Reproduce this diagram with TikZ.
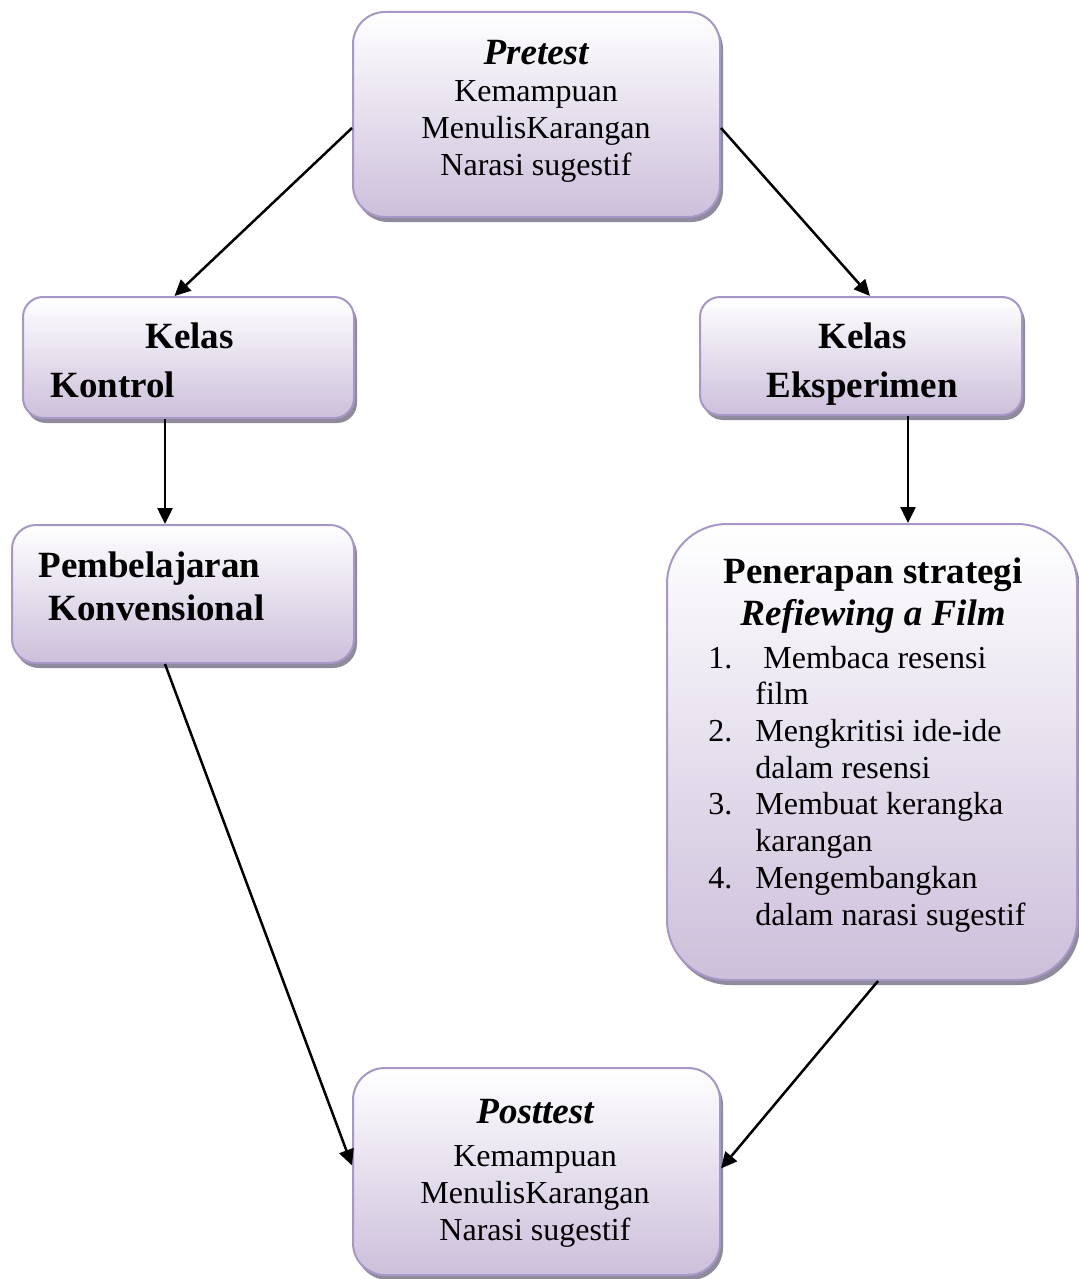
\documentclass[tikz,border=0pt]{standalone}
\usepackage{fontspec}
\setmainfont{Liberation Serif}
\usetikzlibrary{arrows.meta,shadows}
\definecolor{boxlila}{HTML}{CCBFDB}
\definecolor{boxrand}{HTML}{A797C6}
\definecolor{boxschatten}{HTML}{8F8A9C}
\begin{document}
\begin{tikzpicture}[x=0.5pt,y=-0.5pt,
        kotak/.style={rectangle,rounded corners=#1,draw=boxrand,line width=1pt,top color=white,bottom color=boxlila,
            drop shadow={shadow xshift=1.5pt,shadow yshift=-2.5pt,fill=boxschatten,opacity=1}},
        kotak/.default=16pt,
        judul/.style={inner sep=0pt,font=\fontsize{18.5}{21}\selectfont\bfseries},
        isi/.style={inner sep=0pt,font=\fontsize{16}{18.35}\selectfont},
        panah/.style={-{Triangle[length=8pt,width=7.5pt]},line width=1.25pt}]
        \useasboundingbox (0,0) rectangle (1079,1279);
        \node[kotak, minimum width=183.5pt, minimum height=102.5pt] (pre) at (536.5,114.5) {};
        \node[kotak=10pt, minimum width=165.5pt, minimum height=60.5pt] (kontrol) at (188.5,357.5) {};
        \node[kotak=10pt, minimum width=161pt, minimum height=59pt] (eksp) at (861,356) {};
        \node[kotak=12pt, minimum width=171pt, minimum height=69pt] (konv) at (183,594) {};
        \node[kotak=30pt, minimum width=205pt, minimum height=228pt] (terap) at (872,752) {};
        \node[kotak, minimum width=183.5pt, minimum height=103.5pt] (post) at (536.5,1171.5) {};
        \node[judul, anchor=base] (pretj) at (536,65) {\itshape Pretest};
        \node[isi, align=center, anchor=base] (preisi) at (536,175) {Kemampuan\\MenulisKarangan\\Narasi sugestif};
        \node[judul, anchor=base west] (kelas1) at (145,348) {Kelas};
        \node[judul, anchor=base west] (kontrolj) at (50,397) {Kontrol};
        \node[judul, anchor=base west] (kelas2) at (818,348) {Kelas};
        \node[judul, anchor=base west] (ekspj) at (766,397) {Eksperimen};
        \node[judul, anchor=base west] (konv1) at (38,577) {Pembelajaran};
        \node[judul, anchor=base west] (konv2) at (48,620) {Konvensional};
        \node[judul, align=center, anchor=base] (terapj) at (873,625) {Penerapan strategi\\\itshape Refiewing a Film};
        \node[isi, align=left, anchor=base west] (langkah) at (708,925) {%
            \makebox[23.5pt][l]{1.}\hspace{4pt}Membaca resensi\\\hspace*{23.5pt}film\\
            \makebox[23.5pt][l]{2.}Mengkritisi ide-ide\\\hspace*{23.5pt}dalam resensi\\
            \makebox[23.5pt][l]{3.}Membuat kerangka\\\hspace*{23.5pt}karangan\\
            \makebox[23.5pt][l]{4.}Mengembangkan\\\hspace*{23.5pt}dalam narasi sugestif};
        \node[judul, anchor=base] (postj) at (535,1123) {\itshape Posttest};
        \node[isi, align=center, anchor=base] (postisi) at (535,1240) {Kemampuan\\MenulisKarangan\\Narasi sugestif};
        \draw[panah] ([yshift=-6.75pt]pre.west) -- ([xshift=-7pt]kontrol.north);
        \draw[panah] ([yshift=-6.75pt]pre.east) -- ([xshift=4.5pt]eksp.north);
        \draw[panah] ([xshift=-11.75pt]kontrol.south) -- ([xshift=-9pt]konv.north);
        \draw[panah] ([xshift=23.5pt]eksp.south) -- ([xshift=18pt]terap.north);
        \draw[panah] ([xshift=-9pt]konv.south) -- ([yshift=3pt]post.west);
        \draw[panah] ([xshift=3pt]terap.south) -- ([yshift=1.5pt]post.east);
\end{tikzpicture}
\end{document}
